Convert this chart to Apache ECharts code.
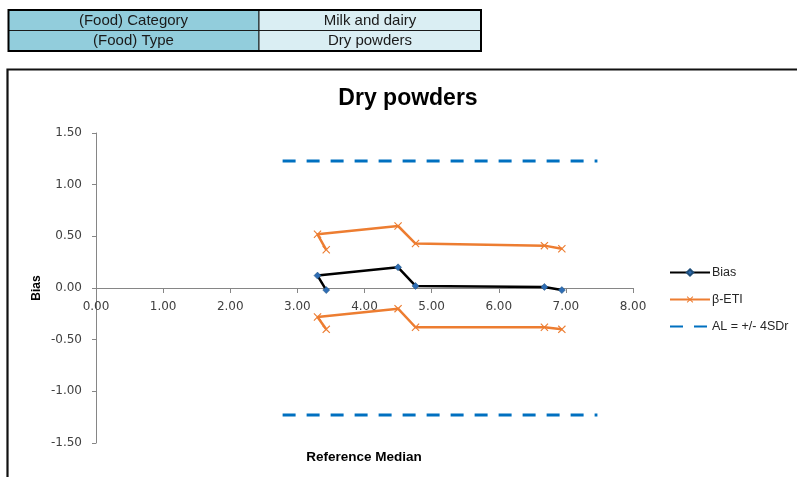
<!DOCTYPE html>
<html>
<head>
<meta charset="utf-8">
<script src="https://cdn.jsdelivr.net/npm/echarts@6/dist/echarts.min.js"></script>
<style>
html,body{margin:0;padding:0;background:#fff;}
#c{width:797px;height:477px;}
</style>
</head>
<body>
<div id="c"></div>
<script>
// ---- data ----
const tableLabels = ['(Food) Category', '(Food) Type'];
const tableValues = ['Milk and dairy', 'Dry powders'];
const chartTitle = 'Dry powders';
const refMedian = [3.43, 3.30, 4.50, 4.76, 6.68, 6.94];
const bias      = [-0.02, 0.12, 0.20, 0.02, 0.01, -0.02];
const etiUpper  = [0.37, 0.52, 0.60, 0.43, 0.41, 0.38];
const etiLower  = [-0.40, -0.28, -0.20, -0.38, -0.38, -0.40];
const alX       = [2.78, 7.47];
const alLimit   = 1.23;
const xTicks = {min: 0, max: 8, interval: 1};
const yTicks = {min: -1.5, max: 1.5, interval: 0.5};

const pairs = (xs, ys) => xs.map((x, i) => [x, ys[i]]);

const crossPath = 'path://M0,1L1,0L5,4L9,0L10,1L6,5L10,9L9,10L5,6L1,10L0,9L4,5Z';

const chart = echarts.init(document.getElementById('c'), null, {renderer: 'canvas'});

const gridTop = 133, gridBottom = 34, H = 477;
// place the x axis where y = 0 (middle of the symmetric y range)
const zeroOffset = -((H - gridTop - gridBottom) * (0 - yTicks.min) / (yTicks.max - yTicks.min));

const graphic = [];
// table
const rowY = [10, 30.5];
const rowH = 20.5;
tableLabels.forEach((lab, i) => {
  graphic.push({type: 'rect', shape: {x: 8.5, y: rowY[i], width: 250.5, height: rowH},
    style: {fill: '#92CDDC', stroke: '#1a1a1a', lineWidth: 1}});
  graphic.push({type: 'rect', shape: {x: 259, y: rowY[i], width: 222, height: rowH},
    style: {fill: '#DAEEF3', stroke: '#1a1a1a', lineWidth: 1}});
  graphic.push({type: 'text', x: 133.5, y: rowY[i] + rowH / 2 + 0.5,
    style: {text: lab, font: '15px "Liberation Sans", Arial, sans-serif', fill: '#1a1a1a',
      textAlign: 'center', textVerticalAlign: 'middle'}});
  graphic.push({type: 'text', x: 370, y: rowY[i] + rowH / 2 + 0.5,
    style: {text: tableValues[i], font: '15px "Liberation Sans", Arial, sans-serif', fill: '#1a1a1a',
      textAlign: 'center', textVerticalAlign: 'middle'}});
});
graphic.push({type: 'rect', shape: {x: 8.5, y: 10, width: 472.5, height: 41},
  style: {fill: 'none', stroke: '#000', lineWidth: 2}});
// chart border (cut off)
graphic.push({type: 'polyline', shape: {points: [[7.5, 480], [7.5, 69.5], [800, 69.5]]},
  style: {fill: 'none', stroke: '#111', lineWidth: 2.2}});
// title
graphic.push({type: 'text', x: 408, y: 99,
  style: {text: chartTitle, font: 'bold 23px "Liberation Sans", Arial, sans-serif', fill: '#000',
    textAlign: 'center', textVerticalAlign: 'middle'}});
// axis names
graphic.push({type: 'text', x: 364, y: 457,
  style: {text: 'Reference Median', font: 'bold 13.5px "Liberation Sans", Arial, sans-serif', fill: '#000',
    textAlign: 'center', textVerticalAlign: 'middle'}});
graphic.push({type: 'text', x: 37, y: 288, rotation: Math.PI / 2,
  style: {text: 'Bias', font: 'bold 12px "Liberation Sans", Arial, sans-serif', fill: '#000',
    textAlign: 'center', textVerticalAlign: 'middle'}});

const option = {
  animation: false,
  backgroundColor: '#fff',
  graphic: graphic,
  legend: {
    orient: 'vertical',
    left: 669, top: 266, padding: 0,
    itemWidth: 40, itemHeight: 8, itemGap: 14,
    data: ['Bias', 'β-ETI', {name: 'AL = +/- 4SDr', itemStyle: {opacity: 0}}],
    textStyle: {fontFamily: '"Liberation Sans", Arial, sans-serif', fontSize: 12.5, color: '#262626', padding: [0, 0, 0, -3]}
  },
  grid: {left: 96, right: 164, top: gridTop, bottom: gridBottom},
  xAxis: {
    type: 'value', min: xTicks.min, max: xTicks.max, interval: xTicks.interval,
    offset: zeroOffset,
    axisLine: {onZero: false, lineStyle: {color: '#868686', width: 1}},
    axisTick: {show: true, length: 5, lineStyle: {color: '#868686'}},
    splitLine: {show: false},
    axisLabel: {margin: 13, formatter: v => v.toFixed(2),
      fontFamily: '"DejaVu Sans", sans-serif', fontSize: 12, color: '#404040'}
  },
  yAxis: {
    type: 'value', min: yTicks.min, max: yTicks.max, interval: yTicks.interval,
    axisLine: {show: true, lineStyle: {color: '#868686', width: 1}},
    axisTick: {show: true, length: 4, lineStyle: {color: '#868686'}},
    splitLine: {show: false},
    axisLabel: {margin: 14, formatter: v => v.toFixed(2),
      fontFamily: '"DejaVu Sans", sans-serif', fontSize: 12, color: '#404040'}
  },
  series: [
    {name: 'Bias', type: 'line', data: pairs(refMedian, bias),
      symbol: 'diamond', symbolSize: 7, showAllSymbol: true,
      lineStyle: {color: '#000', width: 2.5}, itemStyle: {color: '#2E6DB4', borderColor: '#1F4E79', borderWidth: 0.5}, z: 5},
    {name: 'β-ETI', type: 'line', data: pairs(refMedian, etiUpper),
      symbol: crossPath, symbolSize: 8, showAllSymbol: true,
      lineStyle: {color: '#ED7D31', width: 2.5}, itemStyle: {color: '#ED7D31'}},
    {name: 'β-ETI', type: 'line', data: pairs(refMedian, etiLower),
      symbol: crossPath, symbolSize: 8, showAllSymbol: true,
      lineStyle: {color: '#ED7D31', width: 2.5}, itemStyle: {color: '#ED7D31'}},
    {name: 'AL = +/- 4SDr', type: 'line', data: pairs(alX, [alLimit, alLimit]),
      symbol: 'none',
      lineStyle: {color: '#0070C0', width: 3, type: [13, 11]}, itemStyle: {color: '#0070C0'}},
    {name: 'AL = +/- 4SDr', type: 'line', data: pairs(alX, [-alLimit, -alLimit]),
      symbol: 'none',
      lineStyle: {color: '#0070C0', width: 3, type: [13, 11]}, itemStyle: {color: '#0070C0'}}
  ]
};
chart.setOption(option);
</script>
</body>
</html>
